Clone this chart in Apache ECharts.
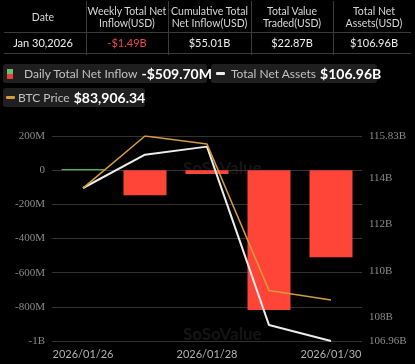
<!DOCTYPE html>
<html>
<head>
<meta charset="utf-8">
<script src="https://cdn.jsdelivr.net/npm/echarts@6/dist/echarts.min.js"></script>
<style>
  html, body { margin:0; padding:0; background:#000; width:415px; height:364px; overflow:hidden; font-family: Lato, "Noto Sans", sans-serif; }
  #chart { position:absolute; left:0; top:0; width:415px; height:364px; }
  #table { position:absolute; left:0; top:0; width:415px; height:56px; z-index:2; color:#d6d6d6; font-size:10.5px; }
  .col { position:absolute; top:0; height:54px; text-align:center; }
  .hdr { position:absolute; left:0; right:0; top:2px; height:29px; display:flex; align-items:center; justify-content:center; line-height:12px; white-space:nowrap; }
  .val { position:absolute; left:0; right:0; top:34px; height:18px; line-height:18px; color:#eee; font-size:11px; }
  .sep { position:absolute; top:1px; width:1px; height:54px; background:#3a3a3a; }
  .hl { position:absolute; left:4px; right:4px; height:1px; background:#3a3a3a; }
  .leg { position:absolute; z-index:2; background:#1f1f1f; border-radius:3px; height:19px; display:flex; align-items:center; white-space:nowrap; }
  .leg .ic { flex-shrink:0; display:inline-block; }
  .leg .t { color:#c2c2c2; font-size:12px; }
  .leg .v { color:#fff; font-size:14px; font-weight:bold; margin-left:4px; }
</style>
</head>
<body>
<div id="table"></div>
<div id="legend"></div>
<div id="chart"></div>
<script>
// ---- data ----
const headers = ['Date', 'Weekly Total Net<br>Inflow(USD)', 'Cumulative Total<br>Net Inflow(USD)', 'Total Value<br>Traded(USD)', 'Total Net<br>Assets(USD)'];
const rowValues = ['Jan 30,2026', '-$1.49B', '$55.01B', '$22.87B', '$106.96B'];
const dates = ['2026/01/26', '2026/01/27', '2026/01/28', '2026/01/29', '2026/01/30'];
const dailyNetInflow = [6.8e6, -147.4e6, -22e6, -818e6, -509.70e6];
const totalNetAssets = [113.58, 115.02, 115.37, 107.65, 106.96];
const btcPrice = [87520, 89200, 88940, 84210, 83906.34];
const legendItems = [
  { name: 'Daily Total Net Inflow', value: '-$509.70M' },
  { name: 'Total Net Assets', value: '$106.96B' },
  { name: 'BTC Price', value: '$83,906.34' }
];

// ---- table ----
const colEdges = [0, 86, 168, 251, 333, 415];
let th = '';
for (let i = 0; i < headers.length; i++) {
  const l = colEdges[i], w = colEdges[i + 1] - colEdges[i];
  const color = rowValues[i].startsWith('-') ? '#e5484d' : '#eee';
  th += `<div class="col" style="left:${l}px;width:${w}px"><div class="hdr">${headers[i]}</div><div class="val" style="color:${color}">${rowValues[i]}</div></div>`;
  if (i > 0) th += `<div class="sep" style="left:${l}px"></div>`;
}
th += '<div class="hl" style="top:32px"></div><div class="hl" style="top:53px"></div>';
document.getElementById('table').innerHTML = th;

// ---- legend ----
const legPos = [
  { left: 3, top: 64, w: 204 },
  { left: 211, top: 64, w: 166 },
  { left: 3, top: 88, w: 142 }
];
const icons = [
  '<span class="ic" style="width:6px;height:10px;margin:0 11px 0 4px;background:linear-gradient(#6fbf73 50%, #e0443a 50%)"></span>',
  '<span class="ic" style="width:9px;height:3px;margin:0 6px 0 5px;background:#eee;border-radius:1px"></span>',
  '<span class="ic" style="width:9px;height:3px;margin:0 3px 0 3px;background:#d49a3c;border-radius:1px"></span>'
];
let lg = '';
legendItems.forEach((it, i) => {
  const p = legPos[i];
  lg += `<div class="leg" style="left:${p.left}px;top:${p.top}px;width:${p.w}px">${icons[i]}<span class="t">${it.name}</span><span class="v">${it.value}</span></div>`;
});
document.getElementById('legend').innerHTML = lg;

// ---- chart ----
const chart = echarts.init(document.getElementById('chart'));
function fmtM(v) {
  if (v === 0) return '0';
  const a = Math.abs(v);
  if (a >= 1e9) return (v / 1e9) + 'B';
  return (v / 1e6) + 'M';
}
chart.setOption({
  backgroundColor: 'transparent',
  animation: false,
  grid: { left: 52, right: 53, top: 136, bottom: 23 },
  xAxis: {
    type: 'category',
    data: dates,
    boundaryGap: true,
    axisLine: { show: false },
    axisTick: { show: false },
    axisLabel: { interval: 1, color: '#b0b0b0', fontSize: 11, margin: 8, fontFamily: 'Lato' }
  },
  yAxis: [
    {
      type: 'value', min: -1e9, max: 2e8, interval: 2e8,
      axisLine: { show: false }, axisTick: { show: false },
      splitLine: { lineStyle: { color: '#333', width: 1 } },
      axisLabel: { formatter: fmtM, color: '#8a8a8a', fontSize: 11, fontFamily: 'Liberation Serif', margin: 7 }
    },
    {
      type: 'value', position: 'right', min: 106.96, max: 115.83,
      axisLine: { show: false }, axisTick: { show: false }, splitLine: { show: false },
      axisLabel: { formatter: v => (+(+v).toFixed(2)) + 'B', color: '#8a8a8a', fontSize: 11, fontFamily: 'Liberation Serif', margin: 7 }
    },
    {
      type: 'value', show: false, min: 82580, max: 89200,
      axisLine: { show: false }, splitLine: { show: false }, axisLabel: { show: false }
    }
  ],
  graphic: [
    { type: 'text', left: 183, top: 160, style: { text: 'SoSoValue', fill: 'rgba(255,255,255,0.08)', font: 'bold 17px Lato' }, z: 0 },
    { type: 'text', left: 183, top: 326, style: { text: 'SoSoValue', fill: 'rgba(255,255,255,0.08)', font: 'bold 17px Lato' }, z: 0 }
  ],
  series: [
    {
      type: 'bar', yAxisIndex: 0, data: dailyNetInflow, barWidth: 43,
      itemStyle: { color: p => p.value >= 0 ? '#4caf50' : '#ff4438' }
    },
    {
      type: 'line', yAxisIndex: 1, data: totalNetAssets, symbol: 'none',
      lineStyle: { color: '#ececec', width: 2 }
    },
    {
      type: 'line', yAxisIndex: 2, data: btcPrice, symbol: 'none',
      lineStyle: { color: '#d49a3c', width: 1.6 }
    }
  ]
});
</script>
</body>
</html>
